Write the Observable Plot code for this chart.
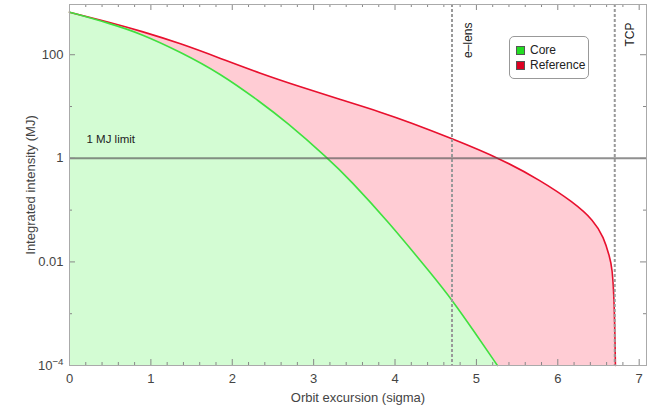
<!DOCTYPE html>
<html>
<head>
<meta charset="utf-8">
<script src="https://cdn.jsdelivr.net/npm/d3@7"></script>
<script src="https://cdn.jsdelivr.net/npm/@observablehq/plot@0.6"></script>
<style>
  html, body { margin: 0; padding: 0; background: #fff; }
  #wrap { position: relative; width: 648px; height: 407px; font-family: "Liberation Sans", Arial, sans-serif; }
  #legend { position: absolute; left: 509px; top: 36px; width: 80px; height: 43px; box-sizing: border-box;
    border: 1px solid #999; border-radius: 5px; background: #fff; font-size: 12px; color: #222; }
  .item { position: absolute; left: 6px; display: flex; align-items: center; }
  .sw { width: 7px; height: 7px; margin-right: 5px; }
</style>
</head>
<body>
<div id="wrap"></div>
<script>
// Data
const coreSigma = [0, 0.504, 0.872, 1.364, 1.855, 2.346, 2.654, 3.178, 3.452, 3.903, 4.472, 4.705, 4.963, 5.258];
const core      = [663, 398, 257, 113, 43.3, 12.2, 5.2, 1.0, 0.376, 0.0634, 0.00525, 0.0018, 0.000475, 0.0001];
const refSigma  = [0, 0.504, 0.872, 1.364, 1.855, 2.346, 2.838, 3.329, 3.821, 4.189, 4.701, 5.295, 5.786, 6.195, 6.441, 6.564, 6.638, 6.667, 6.695, 6.708];
const reference = [663, 417, 288, 165, 85, 43.3, 23.9, 13.6, 7.85, 4.9, 2.40, 0.987, 0.376, 0.141, 0.0634, 0.0301, 0.0124, 0.00794, 0.0018, 0.0001];
const markers = [{x: 4.7, label: "e–lens"}, {x: 6.7, label: "TCP"}];
const limit = 1;
const yMajor = [100, 1, 0.01, 1e-4];
const yMinor = [10, 0.1, 0.001];
const xMajor = [0, 1, 2, 3, 4, 5, 6, 7];
const xMinor = d3.range(0, 7.1, 0.2).filter(v => Math.abs(v - Math.round(v)) > 1e-6);

const coreData = coreSigma.map((s, i) => ({s, v: core[i]}));
const refData = refSigma.map((s, i) => ({s, v: reference[i]}));

const fmtY = v => v === 1e-4 ? "10^-4" : String(v);
const tickCol = "#888";

const chart = Plot.plot({
  width: 648,
  height: 407,
  marginLeft: 69,
  marginRight: 2,
  marginTop: 4,
  marginBottom: 42,
  style: {fontFamily: "Liberation Sans, Arial, sans-serif", fontSize: "12px", color: "#444", background: "#fff"},
  x: {domain: [0, 7.09]},
  y: {type: "log", domain: [1e-4, 933]},
  marks: [
    Plot.areaY(refData, {x: "s", y1: 1e-4, y2: "v", fill: "#ffccd4", curve: "basis"}),
    Plot.areaY(coreData, {x: "s", y1: 1e-4, y2: "v", fill: "#d3fcd3", curve: "basis"}),
    Plot.lineY(refData, {x: "s", y: "v", stroke: "#e8102e", strokeWidth: 1.6, curve: "basis"}),
    Plot.lineY(coreData, {x: "s", y: "v", stroke: "#3fe03f", strokeWidth: 1.6, curve: "basis"}),
    Plot.ruleY([limit], {stroke: "#555", strokeOpacity: 0.65, strokeWidth: 2}),
    Plot.ruleX(markers, {x: "x", stroke: "#999", strokeWidth: 2, strokeDasharray: "3,2"}),
    Plot.text(markers, {x: "x", frameAnchor: "top", text: "label", rotate: -90, textAnchor: "end", dx: 11, dy: 18, fill: "#222", fontSize: 12}),
    Plot.text([limit], {x: () => 0, y: d => d, text: () => "1 MJ limit", textAnchor: "start", dx: 17, dy: -19, fill: "#222", fontSize: 11.5}),
    // inward frame ticks
    Plot.ruleX(xMajor, {stroke: tickCol, insetTop: 355}),
    Plot.ruleX(xMinor, {stroke: tickCol, insetTop: 358}),
    Plot.ruleX(xMajor, {stroke: tickCol, insetBottom: 355}),
    Plot.ruleX(xMinor, {stroke: tickCol, insetBottom: 358}),
    Plot.ruleY(yMajor, {stroke: tickCol, insetRight: 571}),
    Plot.ruleY(yMinor, {stroke: tickCol, insetRight: 574}),
    Plot.ruleY(yMajor, {stroke: tickCol, insetLeft: 571}),
    Plot.ruleY(yMinor, {stroke: tickCol, insetLeft: 574}),
    Plot.frame({stroke: "#aaa"}),
    Plot.axisX({ticks: xMajor, tickSize: 0, tickPadding: 8, fontSize: 13, fill: "#444", label: "Orbit excursion (sigma)", labelAnchor: "center", labelOffset: 36, labelArrow: "none"}),
    Plot.axisY({ticks: yMajor, tickSize: 0, tickPadding: 6, tickFormat: fmtY, fontSize: 13, fill: "#444", label: "Integrated intensity (MJ)", labelAnchor: "center", labelOffset: 44, labelArrow: "none"})
  ]
});

// render the exponent label as 10 with a superscript
d3.select(chart).selectAll("text").each(function() {
  const el = d3.select(this);
  const tspans = el.selectAll("tspan");
  const target = tspans.empty() ? el : tspans.filter(function() { return this.textContent === "10^-4"; });
  target.each(function() {
    if (this.textContent !== "10^-4") return;
    const t = d3.select(this);
    t.text("10");
    t.append("tspan").attr("dy", "-0.45em").attr("font-size", "0.75em").text("−4");
  });
});

const wrap = document.getElementById("wrap");
wrap.appendChild(chart);

const legend = document.createElement("div");
legend.id = "legend";
const items = [{name: "Core", color: "#22dd22"}, {name: "Reference", color: "#dd0022"}];
items.forEach((it, i) => {
  const row = document.createElement("div");
  row.className = "item";
  row.style.top = (6 + i * 15) + "px";
  const sw = document.createElement("div");
  sw.className = "sw";
  sw.style.background = it.color;
  sw.style.border = "0.5px solid #555";
  const t = document.createElement("span");
  t.textContent = it.name;
  row.appendChild(sw);
  row.appendChild(t);
  legend.appendChild(row);
});
wrap.appendChild(legend);
</script>
</body>
</html>
